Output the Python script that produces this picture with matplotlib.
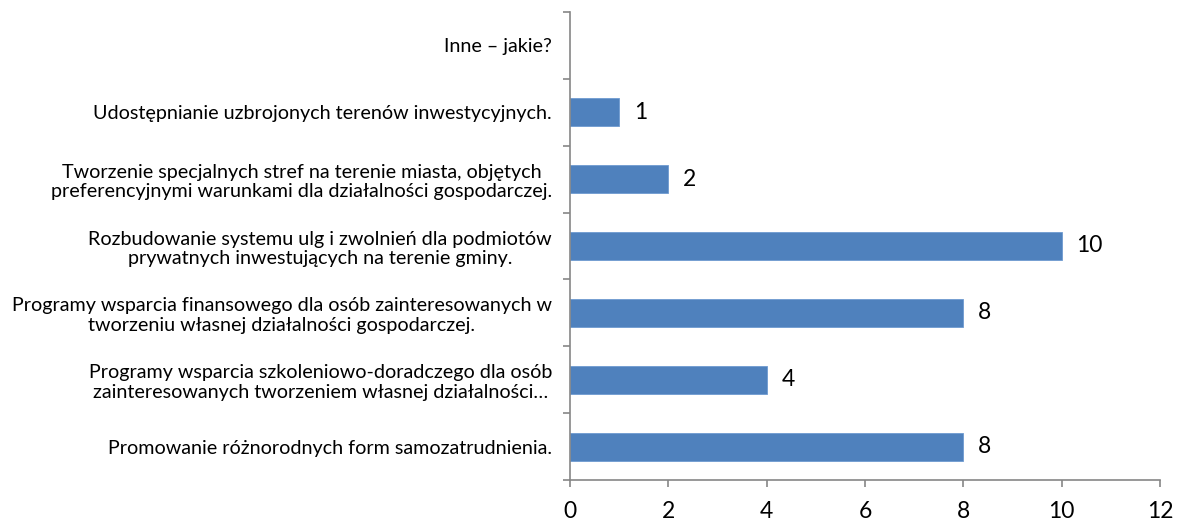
import matplotlib.pyplot as plt
import numpy as np

categories = [
    'Promowanie różnorodnych form samozatrudnienia.',
    'Programy wsparcia szkoleniowo-doradczego dla osób\nzainteresowanych tworzeniem własnej działalności…',
    'Programy wsparcia finansowego dla osób zainteresowanych w\ntworzeniu własnej działalności gospodarczej.',
    'Rozbudowanie systemu ulg i zwolnień dla podmiotów\nprywatnych inwestujących na terenie gminy.',
    'Tworzenie specjalnych stref na terenie miasta, objętych\npreferencyjnymi warunkami dla działalności gospodarczej.',
    'Udostępnianie uzbrojonych terenów inwestycyjnych.',
    'Inne – jakie?',
]
values = [8, 4, 8, 10, 2, 1, None]
xticks = [0, 2, 4, 6, 8, 10, 12]

plt.rcParams['font.family'] = ['Lato', 'DejaVu Sans']

fig = plt.figure(figsize=(11.8, 5.26), dpi=100)
ax = fig.add_axes([570 / 1180, 1 - 480 / 526, 590 / 1180, 468 / 526])

pos = np.arange(len(categories))
for y, v in zip(pos, values):
    if v is None:
        continue
    ax.barh(y, v, height=0.42, color='#4F81BD', edgecolor='#6F9BD0', linewidth=0.6)
    ax.text(v + 0.3, y, str(v), va='center', ha='left', fontsize=16.5)

ax.set_xlim(0, 12)
ax.set_ylim(-0.5, len(categories) - 0.5)
ax.set_xticks(xticks)
ax.set_xticklabels([str(t) for t in xticks], fontsize=16.5)
ax.set_yticks(pos)
ax.set_yticklabels(categories, fontsize=14.2, multialignment='center', linespacing=1.2)
ax.set_yticks(np.arange(len(categories) + 1) - 0.5, minor=True)

ax.tick_params(axis='y', which='major', length=0, pad=13)
ax.tick_params(axis='y', which='minor', length=5, color='#868686', width=1.2, direction='out')
ax.tick_params(axis='x', length=5, color='#868686', width=1.2, pad=10)

for side in ['top', 'right']:
    ax.spines[side].set_visible(False)
for side in ['left', 'bottom']:
    ax.spines[side].set_color('#868686')
    ax.spines[side].set_linewidth(1.2)

fig.savefig('out.png', dpi=100)
